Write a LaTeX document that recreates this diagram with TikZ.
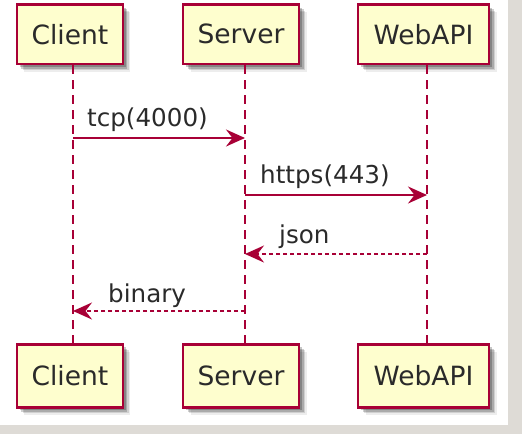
\documentclass[tikz,border=0pt]{standalone}
\usepackage{fontspec}
\setmainfont{DejaVu Sans}
\usetikzlibrary{arrows.meta,shadows}
\definecolor{umlred}{HTML}{A80036}
\definecolor{umlfill}{HTML}{FEFECE}
\definecolor{umlbg}{HTML}{DEDBD6}
\definecolor{umltext}{HTML}{2A2A2A}
\tikzset{
  part/.style={draw=umlred, fill=umlfill, line width=2.6pt, minimum height=59.5pt,
    inner sep=0pt, text=umltext, font=\fontsize{26.5}{30}\selectfont,
    general shadow={fill=black, opacity=0.07, shadow xshift=7.5pt, shadow yshift=-7.5pt},
    general shadow={fill=black, opacity=0.12, shadow xshift=6pt, shadow yshift=-6pt},
    general shadow={fill=black, opacity=0.18, shadow xshift=4.5pt, shadow yshift=-4.5pt},
    general shadow={fill=black, opacity=0.22, shadow xshift=3pt, shadow yshift=-3pt}},
  lifeline/.style={draw=umlred, line width=1.8pt, dash pattern=on 9pt off 6pt},
  msg/.style={draw=umlred, line width=1.8pt, -{Stealth[length=19pt, width=17pt, inset=6.5pt]}},
  reply/.style={msg, dash pattern=on 4pt off 3pt},
  lbl/.style={anchor=base west, inner sep=0pt, text=umltext, font=\fontsize{24.6}{28}\selectfont}
}
\begin{document}
\begin{tikzpicture}[x=1pt, y=-1pt]
\useasboundingbox (0,0) rectangle (522,434);
\fill[umlbg] (0,0) rectangle (522,434);
\fill[white] (0,0) rectangle (508,425);
% lifeline x positions
\coordinate (cl) at (73,0);
\coordinate (sl) at (245,0);
\coordinate (wl) at (427,0);
% participants
\node[part, minimum width=106pt] (cTop) at (69.9,34.3) {Client};
\node[part, minimum width=116pt] (sTop) at (241,34.3) {Server};
\node[part, minimum width=131pt] (wTop) at (423.5,34.3) {WebAPI};
\node[part, minimum width=106pt, minimum height=63pt] (cBot) at (69.9,375.7) {Client};
\node[part, minimum width=116pt, minimum height=63pt] (sBot) at (241,375.7) {Server};
\node[part, minimum width=131pt, minimum height=63pt] (wBot) at (423.5,375.7) {WebAPI};
% lifelines
\draw[lifeline] (cTop.south -| cl) -- (cBot.north -| cl);
\draw[lifeline] (sTop.south -| sl) -- (sBot.north -| sl);
\draw[lifeline] (wTop.south -| wl) -- (wBot.north -| wl);
% messages
\coordinate (m1a) at (73,138);  \coordinate (m1b) at (245,138);
\coordinate (m2a) at (245,195); \coordinate (m2b) at (427,195);
\coordinate (m3a) at (427,254); \coordinate (m3b) at (245,254);
\coordinate (m4a) at (245,311); \coordinate (m4b) at (73,311);
\draw[msg] (m1a) -- (m1b);
\draw[msg] (m2a) -- (m2b);
\draw[reply] (m3a) -- (m3b);
\draw[reply] (m4a) -- (m4b);
\node[lbl] (t1) at (87,126) {tcp(4000)};
\node[lbl] (t2) at (260,183) {https(443)};
\node[lbl] (t3) at (279,243) {json};
\node[lbl] (t4) at (108,302) {binary};
\end{tikzpicture}
\end{document}
